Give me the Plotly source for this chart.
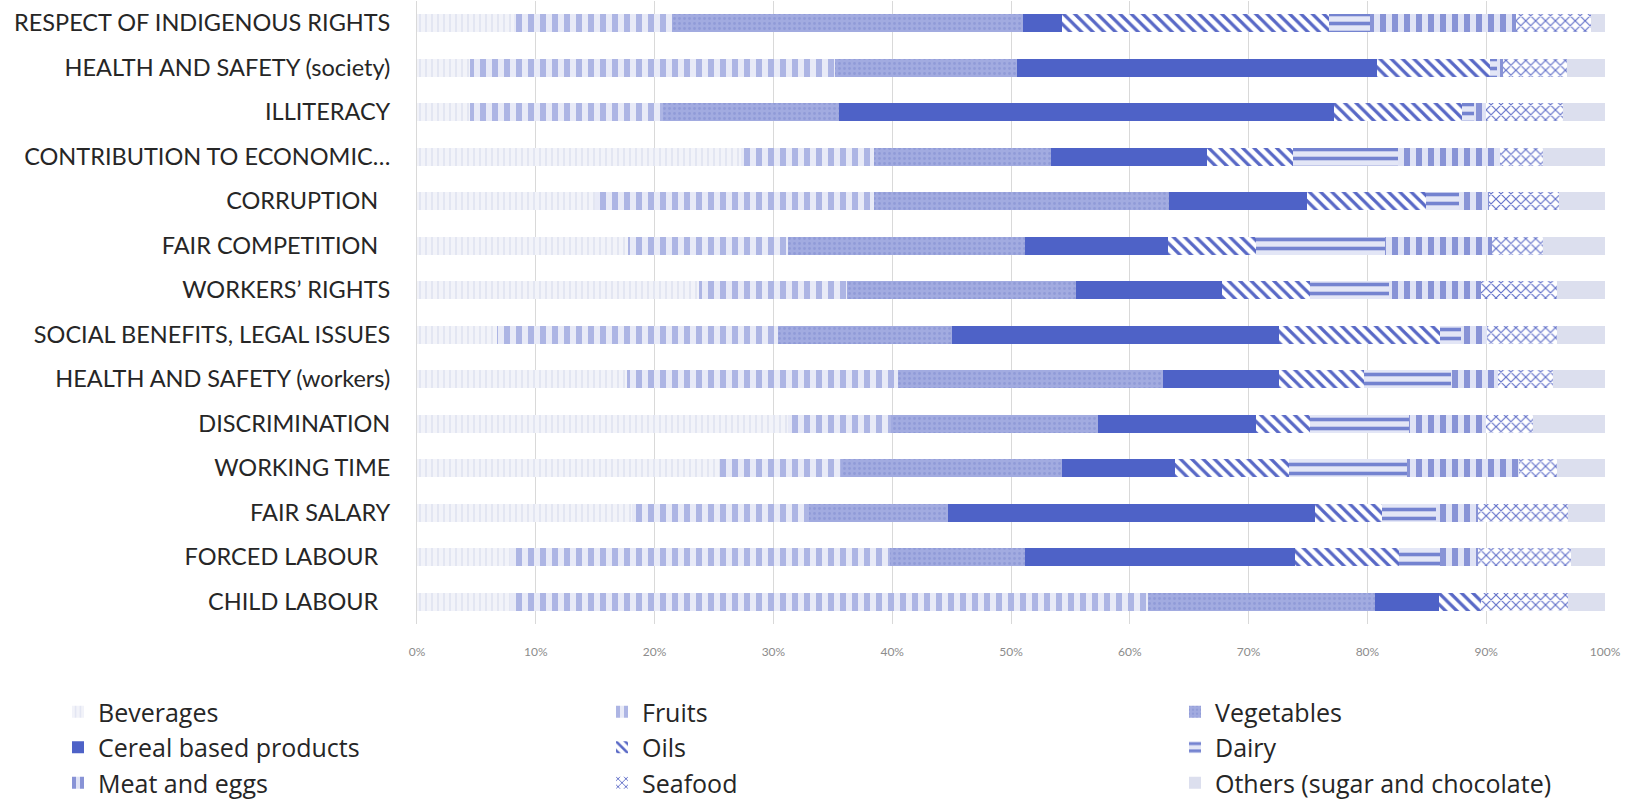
import plotly.graph_objects as go

# Social issues (top to bottom as listed)
categories = [
    "RESPECT OF INDIGENOUS RIGHTS",
    "HEALTH AND SAFETY (society)",
    "ILLITERACY",
    "CONTRIBUTION TO ECONOMIC\u2026",
    "CORRUPTION\u00a0\u00a0",
    "FAIR COMPETITION\u00a0\u00a0",
    "WORKERS\u2019 RIGHTS",
    "SOCIAL BENEFITS, LEGAL ISSUES",
    "HEALTH AND SAFETY (workers)",
    "DISCRIMINATION",
    "WORKING TIME",
    "FAIR SALARY",
    "FORCED LABOUR\u00a0\u00a0",
    "CHILD LABOUR\u00a0\u00a0",
]

# Share (%) of each food group per social issue
beverages  = [8.2, 4.5, 4.5, 27.3, 15.0, 17.8, 23.7, 6.7, 17.7, 31.2, 25.5, 18.1, 7.8, 7.8]
fruits     = [13.3, 30.7, 16.2, 11.2, 23.5, 13.4, 12.5, 23.7, 22.8, 8.7, 10.2, 14.9, 32.0, 53.7]
vegetables = [29.5, 15.3, 14.8, 14.9, 24.8, 20.0, 19.3, 14.6, 22.3, 17.4, 18.6, 11.7, 11.4, 19.1]
cereal     = [3.3, 30.3, 41.7, 13.1, 11.6, 12.0, 12.3, 27.6, 9.8, 13.3, 9.5, 30.9, 22.7, 5.4]
oils       = [22.5, 9.5, 10.8, 7.2, 10.0, 7.4, 7.4, 13.5, 7.1, 4.6, 9.6, 5.6, 8.8, 3.6]
dairy      = [3.4, 0.6, 1.0, 8.9, 2.8, 10.9, 6.6, 1.8, 7.3, 8.3, 9.9, 4.6, 3.4, 0.0]
meat_eggs  = [12.3, 0.5, 1.0, 8.6, 2.5, 9.0, 7.8, 2.2, 4.0, 6.5, 9.5, 3.5, 3.2, 0.0]
seafood    = [6.3, 5.4, 6.5, 3.6, 5.9, 4.3, 6.4, 5.9, 4.6, 3.9, 3.2, 7.6, 7.8, 7.3]
others     = [1.2, 3.2, 3.5, 5.2, 3.9, 5.2, 4.0, 4.0, 4.4, 6.1, 4.0, 3.1, 2.9, 3.1]

tick_values = [0, 10, 20, 30, 40, 50, 60, 70, 80, 90, 100]

series = [
    # name, values, fill colour, pattern shape, pattern colour, size, solidity, legend
    ("Beverages", beverages, "#f2f3f9", "|", "#e2e5f2", 6, 0.3, "legend"),
    ("Fruits", fruits, "#e8eaf7", "|", "#adb5e4", 12, 0.5, "legend2"),
    ("Vegetables", vegetables, "#a2abe0", ".", "#909bd8", 5, 0.25, "legend3"),
    ("Cereal based products", cereal, "#4e62c7", "", "#4e62c7", 8, 0.2, "legend"),
    ("Oils", oils, "#ffffff", "\\", "#5868c6", 8, 0.4, "legend2"),
    ("Dairy", dairy, "#e3e6f6", "-", "#7483d0", 9, 0.4, "legend3"),
    ("Meat and eggs", meat_eggs, "#e0e3f5", "|", "#8893d6", 12, 0.5, "legend"),
    ("Seafood", seafood, "#ffffff", "x", "#5f6ec8", 7, 0.3, "legend2"),
    ("Others (sugar and chocolate)", others, "#dcdfee", "", "#dcdfee", 8, 0.2, "legend3"),
]

fig = go.Figure()
for name, vals, col, shape, fg, size, sol, leg in series:
    fig.add_trace(go.Bar(
        name=name,
        y=categories,
        x=vals,
        orientation="h",
        legend=leg,
        marker=dict(
            color=col,
            line=dict(width=0),
            pattern=dict(shape=shape, fgcolor=fg, bgcolor=col, size=size,
                         solidity=sol, fillmode="replace"),
        ),
        hovertemplate="%{y}<br>" + name + ": %{x:.1f}%<extra></extra>",
    ))

legend_style = dict(
    orientation="v",
    traceorder="normal",
    font=dict(family="Open Sans", size=25, color="#262626"),
    bgcolor="rgba(0,0,0,0)",
    xref="container", yref="container",
    xanchor="left", yanchor="top",
    y=1 - 689 / 801,
    itemclick=False, itemdoubleclick=False,
    tracegroupgap=0,
)

fig.update_layout(
    width=1649, height=801,
    barmode="stack",
    barnorm="percent",
    bargap=0.6,
    plot_bgcolor="white",
    paper_bgcolor="white",
    margin=dict(l=417, r=44, t=1, b=177, autoexpand=False),
    font=dict(family="Lato", color="#262626"),
    showlegend=True,
    legend=dict(legend_style, x=58 / 1649),
    legend2=dict(legend_style, x=602 / 1649),
    legend3=dict(legend_style, x=1175 / 1649),
    xaxis=dict(
        range=[0, 100],
        tickvals=tick_values,
        ticktext=[f"{v}%" for v in tick_values],
        tickfont=dict(family="Lato", size=12, color="#8c8c8c"),
        showgrid=True, gridcolor="#d9d9d9", gridwidth=1,
        zeroline=False, showline=False,
        ticks="", ticklabelstandoff=19,
        automargin=False,
        fixedrange=True,
    ),
    yaxis=dict(
        autorange="reversed",
        tickfont=dict(family="Lato", size=23.5, color="#262626"),
        ticks="", showgrid=False, zeroline=False,
        showline=True, linecolor="#d9d9d9", linewidth=1,
        ticklabelstandoff=21,
        automargin=False,
        fixedrange=True,
    ),
)

fig.write_html("out.html")
